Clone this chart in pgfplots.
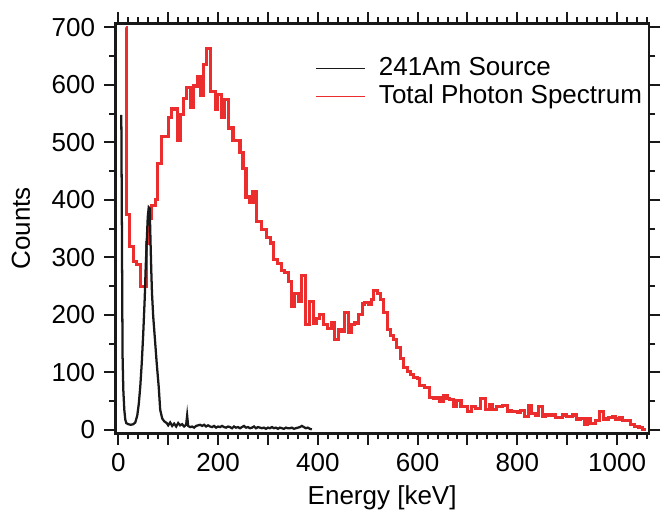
\documentclass[border=0pt]{standalone}
\usepackage{fontspec}
\setmainfont{Liberation Sans}
\usepackage{pgfplots}
\pgfplotsset{compat=1.18}
\definecolor{specred}{RGB}{235,45,45}
\definecolor{amblack}{RGB}{25,25,25}
\begin{document}
\fontsize{19.5}{22}\selectfont
\begin{tikzpicture}
\begin{axis}[
  scale only axis, width=400.3pt, height=307.5pt,
  xmin=-6, xmax=1064, ymin=-5.8, ymax=707,
  axis line style={line width=2pt, black!90},
  tick align=outside, tick pos=both, xticklabel pos=bottom, yticklabel pos=left,
  xtick={0,100,...,1000}, xticklabels={0,,200,,400,,600,,800,,1000},
  minor xtick={0,20,...,1060},
  ytick={0,100,...,700}, minor ytick={50,150,...,650},
  major tick length=8.5pt, minor tick length=4.5pt,
  every tick/.style={line width=1.5pt, black!90},
  /pgf/number format/assume math mode=true,
  ticklabel style={font=\fontsize{19.5}{22}\selectfont},
  xlabel={Energy [keV]}, ylabel={Counts},
  ylabel shift=3pt, xlabel shift=-3pt,
  label style={font=\fontsize{19.5}{22}\selectfont},
  legend style={draw=none, fill=none, at={(0.367,0.93)}, anchor=north west,
    font=\fontsize{19.5}{22}\selectfont, row sep=0pt},
  legend cell align=left,
  reverse legend,
]
\addplot[specred, line width=2.3pt, const plot,
  legend image code/.code={\draw[draw=specred, line width=1pt] (0pt,0pt) -- (37pt,0pt); \path (44pt,0pt);}] coordinates {
(16,700)(16.5,374)(22,319)(30,293)(36,287)(44,250)(57,325)(63,367)(67,391)(74,400)(78,464)(86,510)(100,543)(106,558)(118,504)(124,548)(130,577)(136,595)(144,560)(150,598)(158,614)(164,581)(170,635)(176,664)(184,588)(194,557)(198,583)(206,544)(212,574)(220,525)(230,504)(244,482)(250,455)(256,405)(264,395)(270,414)(277,362)(287,348)(297,334)(305,325)(312,296)(319,290)(327,277)(334,273)(341,258)(347,214)(354,238)(361,223)(367,268)(376,183)(384,223)(391,186)(397,193)(404,200)(411,184)(419,177)(427,186)(434,158)(441,174)(447,171)(454,205)(461,169)(467,183)(474,186)(481,200)(489,219)(494,221)(501,219)(507,226)(512,242)(519,237)(525,226)(532,204)(539,174)(545,165)(552,157)(557,144)(565,125)(572,108)(579,101)(585,97)(592,92)(599,90)(604,77)(614,73)(624,57)(631,54)(639,57)(645,49)(652,59)(659,54)(664,53)(672,41)(677,52)(687,40)(701,32)(709,41)(717,38)(727,55)(736,35)(744,45)(751,36)(759,41)(771,42)(781,33)(789,32)(801,30)(807,34)(814,24)(822,42)(829,29)(836,26)(843,41)(851,23)(857,26)(867,26)(877,22)(891,26)(899,24)(905,23)(911,26)(919,19)(927,20)(934,10)(941,19)(947,12)(957,17)(964,32)(972,19)(983,22)(991,23)(997,19)(1004,22)(1011,17)(1017,16)(1027,9)(1034,6)(1044,5)(1051,1)(1057,1)
};
\addlegendentry{Total Photon Spectrum}
\addplot[amblack, line width=1.7pt,
  legend image code/.code={\draw[draw=amblack, line width=1pt] (0pt,0pt) -- (37pt,0pt); \path (44pt,0pt);}] coordinates {
(6,548)(7.5,300)(8.5,130)(10,70)(12,35)(14,18)(16,12)(20,10)(25,9)(30,10)(34,13)(38,25)(41,45)(44,75)(47,116)(50,168)(53,230)(55,285)(57,327)(59,370)(61,387)(63,385)(64.5,330)(66,280)(67.5,238)(70,197)(74,151)(77,116)(81,75)(84,35)(88,20)(92,15)(97,12)
(100,8)(104,13)(108,7)(112,11)(116,6)(120,12)(124,8)(128,10)(132,6)(136,9)(138,25)(140,7)(144,5)(148,6)(152,4)(156,7)(160,8)(164,9)(168,7)(172,9)(176,6)(180,8)(184,6)(188,5)(192,7)(196,4)(200,6)(204,5)(208,7)(212,5)(216,4)(220,6)(224,5)(228,3)(232,6)(236,4)(240,5)(244,3)(248,5)(252,7)(256,4)(260,5)(264,3)(268,4)(272,6)(276,3)(280,5)(284,4)(288,3)(292,4)(296,2)(300,4)(304,3)(308,5)(312,3)(316,4)(320,2)(324,4)(328,3)(332,2)(336,4)(340,3)(344,3)(348,4)(352,2)(356,3)(360,4)(364,5)(368,7)(372,5)(376,3)(380,4)(384,2)(388,1)
};
\addlegendentry{241Am Source}
\end{axis}
\pgfresetboundingbox
\path ([shift={(-86.5pt,-59pt)}]current axis.south west) rectangle ([shift={(13.5pt,17.5pt)}]current axis.north east);
\end{tikzpicture}
\end{document}
